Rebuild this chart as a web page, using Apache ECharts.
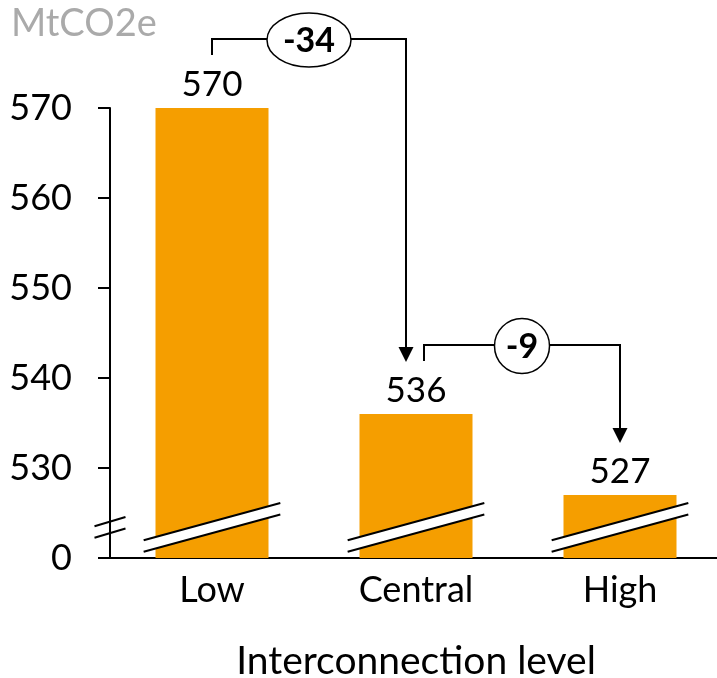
<!DOCTYPE html>
<html><head><meta charset="utf-8">
<script src="https://cdn.jsdelivr.net/npm/echarts@6/dist/echarts.min.js"></script>
<style>html,body{margin:0;padding:0;background:#fff}#c{width:717px;height:678px}</style>
</head><body><div id="c"></div>
<script>
const categories = ['Low', 'Central', 'High'];
const values = [570, 536, 527];
const yTickValues = [520, 530, 540, 550, 560, 570];
const yTickLabels = ['0', '530', '540', '550', '560', '570'];
const changes = [-34, -9];
const changeFrom = [0, 1];
const changeTo = [1, 2];
const breakValue = 523.4;
const unitLabel = 'MtCO2e';
const xTitle = 'Interconnection level';

const FONT = 'Lato';
const chart = echarts.init(document.getElementById('c'));

function breakItem(params, api) {
  const p = api.coord([api.value(0), api.value(1)]);
  const band = api.size([1, 0])[0];
  const hw = band * 0.335, dy = hw * 0.272, g = 11.5;
  const x = p[0], y = p[1];
  const children = [
    { type: 'polygon', shape: { points: [[x - hw, y + dy - g / 2], [x + hw, y - dy - g / 2], [x + hw, y - dy + g / 2], [x - hw, y + dy + g / 2]] }, style: { fill: '#fff' } },
    { type: 'line', shape: { x1: x - hw, y1: y + dy - g / 2, x2: x + hw, y2: y - dy - g / 2 }, style: { stroke: '#000', lineWidth: 2 } },
    { type: 'line', shape: { x1: x - hw, y1: y + dy + g / 2, x2: x + hw, y2: y - dy + g / 2 }, style: { stroke: '#000', lineWidth: 2 } }
  ];
  if (params.dataIndex === 0) {
    const ax = x - band / 2, ahw = 15.5, ady = 4.6;
    children.push(
      { type: 'line', shape: { x1: ax - ahw, y1: y + ady - g / 2, x2: ax + ahw, y2: y - ady - g / 2 }, style: { stroke: '#000', lineWidth: 2 } },
      { type: 'line', shape: { x1: ax - ahw, y1: y + ady + g / 2, x2: ax + ahw, y2: y - ady + g / 2 }, style: { stroke: '#000', lineWidth: 2 } }
    );
  }
  return { type: 'group', children };
}

function changeItem(params, api) {
  const a = api.coord([api.value(0), api.value(1)]);
  const b = api.coord([api.value(2), api.value(3)]);
  const idx = params.dataIndex;
  const x1 = a[0] + (idx === 0 ? 0 : 8);
  const x2 = b[0] + (idx === 0 ? -10 : 0);
  const y1 = a[1] - 53;
  const yTop = Math.min(a[1], b[1]) - 69;
  const yTip = b[1] - 52;
  const ah = 15, aw = 7.5;
  const cx = (x1 + x2) / 2, cy = yTop + 1;
  const rx = idx === 0 ? 42 : 27.5, ry = idx === 0 ? 27 : 27.5;
  return {
    type: 'group',
    children: [
      { type: 'polyline', shape: { points: [[x1, y1], [x1, yTop], [x2, yTop], [x2, yTip - ah + 1]] }, style: { stroke: '#000', lineWidth: 2, fill: null } },
      { type: 'polygon', shape: { points: [[x2 - aw, yTip - ah], [x2 + aw, yTip - ah], [x2, yTip]] }, style: { fill: '#000' } },
      { type: 'ellipse', shape: { cx: cx, cy: cy, rx: rx, ry: ry }, style: { fill: '#fff', stroke: '#000', lineWidth: 1.5 } },
      { type: 'text', style: { text: String(api.value(4)), x: cx, y: cy + 1, align: 'center', verticalAlign: 'middle', fontSize: 34, fontWeight: 'bold', fontFamily: FONT, fill: '#000' } }
    ]
  };
}

chart.setOption({
  animation: false,
  backgroundColor: '#fff',
  title: { text: unitLabel, left: 6, top: 0, textStyle: { color: '#aaaaaa', fontSize: 38, fontWeight: 'normal', fontFamily: FONT } },
  grid: { left: 110, top: 108, width: 612, height: 450, containLabel: false, outerBoundsMode: 'none' },
  xAxis: {
    type: 'category', data: categories,
    name: xTitle, nameLocation: 'middle', nameGap: 84,
    nameTextStyle: { fontSize: 39, color: '#000', fontFamily: FONT },
    axisLine: { lineStyle: { color: '#000', width: 2 } },
    axisTick: { show: false },
    axisLabel: { fontSize: 36, color: '#000', fontFamily: FONT, margin: 14 }
  },
  yAxis: {
    type: 'value', min: 520, max: 570, interval: 10,
    splitLine: { show: false },
    axisLine: { show: true, lineStyle: { color: '#000', width: 2 } },
    axisTick: { show: true, length: 12, lineStyle: { color: '#000', width: 2 } },
    axisLabel: { fontSize: 36, color: '#000', fontFamily: FONT, margin: 38,
      formatter: v => { const i = yTickValues.indexOf(v); return i >= 0 ? yTickLabels[i] : ''; } }
  },
  series: [
    { type: 'bar', data: values, barWidth: 113, itemStyle: { color: '#F59E00' },
      label: { show: true, position: 'top', distance: 6, fontSize: 35, color: '#000', fontFamily: FONT } },
    { type: 'custom', renderItem: breakItem, z: 5, silent: true,
      data: categories.map((c, i) => [i, breakValue]) },
    { type: 'custom', renderItem: changeItem, z: 6, silent: true,
      data: changes.map((d, i) => [changeFrom[i], values[changeFrom[i]], changeTo[i], values[changeTo[i]], d]) }
  ]
});
</script></body></html>
